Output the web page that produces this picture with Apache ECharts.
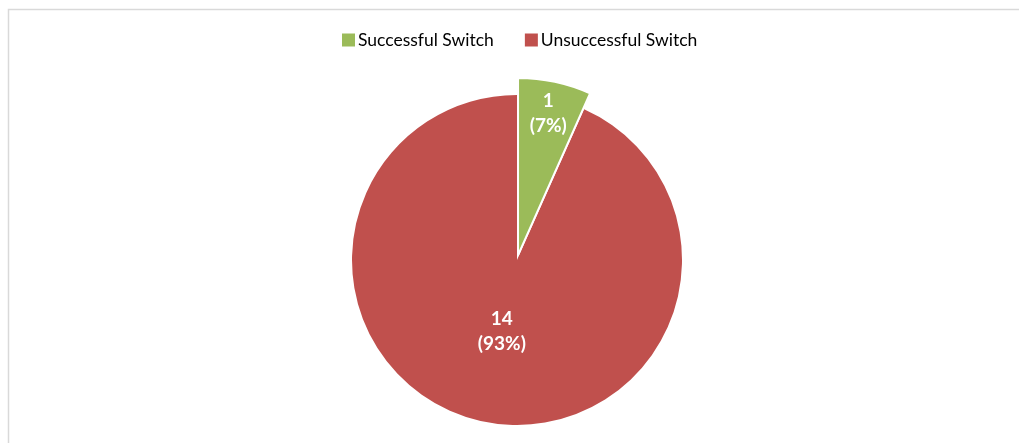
<!DOCTYPE html>
<html><head><meta charset="utf-8">
<script src="https://cdn.jsdelivr.net/npm/echarts@6/dist/echarts.min.js"></script>
<style>html,body{margin:0;padding:0;background:#fff}#c{width:1019px;height:443px}</style>
</head><body><div id="c"></div>
<script>
const categories = ['Successful Switch', 'Unsuccessful Switch'];
const values = [1, 14];
const colors = ['#9BBB59', '#C0504D'];

const FONT = 'Lato';
const CX = 517, CY = 260;
const clear = 'rgba(0,0,0,0)';

function makeData(showIdx, opts) {
  return categories.map((name, i) => ({
    name: name,
    value: values[i],
    selected: !!(opts && opts.selected && i === 0),
    itemStyle: (i === showIdx && opts && opts.fill)
      ? { color: colors[i], borderColor: opts.border || colors[i], borderWidth: opts.borderWidth || 0 }
      : { color: clear, borderWidth: 0 },
    label: { show: i === showIdx && !!(opts && opts.label) }
  }));
}

const labelStyle = {
  position: 'inside',
  formatter: '{c}\n({d}%)',
  color: '#fff',
  fontFamily: FONT,
  fontWeight: 'bold',
  fontSize: 19,
  lineHeight: 25
};

const common = {
  type: 'pie',
  center: [CX, CY],
  startAngle: 90,
  clockwise: true,
  percentPrecision: 0,
  avoidLabelOverlap: false,
  silent: true,
  animation: false,
  labelLine: { show: false },
  emphasis: { disabled: true },
  label: labelStyle
};

const chart = echarts.init(document.getElementById('c'), null, { renderer: 'canvas' });
chart.setOption({
  backgroundColor: '#fff',
  animation: false,
  legend: {
    left: 337,
    top: 26,
    itemWidth: 13,
    itemHeight: 13,
    itemGap: 31,
    icon: 'rect',
    selectedMode: false,
    textStyle: { fontFamily: FONT, fontSize: 17.5, color: '#000', padding: [0, 0, 0, -2] },
    data: categories.map((n, i) => ({ name: n, itemStyle: { color: colors[i], borderWidth: 0 } }))
  },
  graphic: [{
    type: 'rect', left: 6, top: 7, silent: true,
    shape: { x: 0, y: 0, width: 1100, height: 1000 },
    style: { fill: 'none', stroke: '#d9d9d9', lineWidth: 1.5 }
  }],
  series: [
    Object.assign({}, common, { name: 'red', radius: [0, 165], data: makeData(1, { fill: true }) }),
    Object.assign({}, common, { name: 'green', radius: [0, 177], selectedMode: 'single', selectedOffset: 5,
      data: makeData(0, { fill: true, selected: true, border: '#fff', borderWidth: 2 }) }),
    Object.assign({}, common, { name: 'greenLabel', radius: [110, 174], selectedMode: 'single', selectedOffset: 5,
      data: makeData(0, { label: true, selected: true }) }),
    Object.assign({}, common, { name: 'redLabel', radius: [0, 140], data: makeData(1, { label: true }) })
  ]
});
</script>
</body></html>
